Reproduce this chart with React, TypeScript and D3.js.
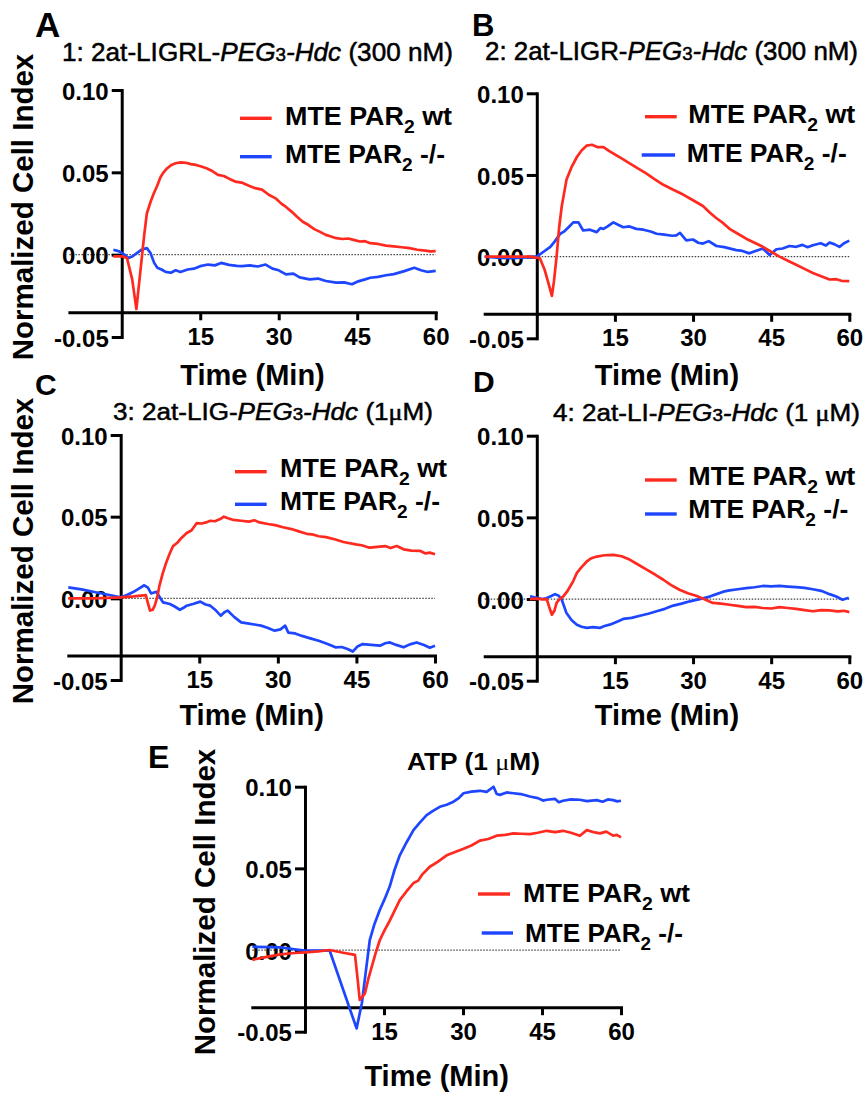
import React, { useRef, useEffect } from "react";
import * as d3 from "d3";

const WIDTH = 863;
const HEIGHT = 1094;
const RED = "#ff2a1f";
const BLUE = "#1e46ff";
const SANS = "'Liberation Sans', Arial, Helvetica, sans-serif";
const SERIF = "'Liberation Serif', 'DejaVu Serif', serif";

const xTicks = [15, 30, 45, 60];
const yTicks = [-0.05, 0, 0.05, 0.1];
const seriesNames = ["MTE PAR", "MTE PAR"];
const seriesSuffix = [" wt", " -/-"];

// [minutes, normalized cell index]
const aWt = [[-1.6,-0.001],[0,-0.001],[1,-0.002],[2,-0.015],[2.8,-0.033],[3.4,-0.015],[3.9,0],[4.3,0.012],[4.8,0.025],[5.5,0.032],[6.1,0.037],[6.8,0.042],[7.4,0.047],[8,0.05],[8.7,0.0525],[9.5,0.0545],[10.3,0.0555],[11.3,0.056],[12.3,0.0558],[13.2,0.055],[14.2,0.0545],[15.2,0.0535],[16.2,0.0525],[17.3,0.0508],[18.4,0.0485],[19.5,0.0478],[20.6,0.046],[21.7,0.0444],[22.9,0.0438],[24.2,0.042],[25.5,0.0404],[26.8,0.0395],[28.1,0.0364],[29.5,0.034],[30.5,0.031],[31.4,0.029],[32.5,0.026],[33.5,0.023],[34.6,0.02],[35.7,0.018],[36.8,0.0155],[37.8,0.014],[39,0.012],[40,0.011],[41,0.01],[42.2,0.0095],[43.3,0.0098],[44.3,0.009],[45.5,0.008],[46.5,0.0082],[47.5,0.007],[49,0.0065],[50.5,0.0055],[52,0.005],[53.5,0.0045],[55,0.004],[56.5,0.003],[58,0.0025],[59,0.002],[60,0.0022]];
const aKo = [[-1.6,0.003],[-0.5,0.002],[0.5,0],[1.3,-0.002],[2.1,-0.001],[2.9,0.001],[3.8,0.003],[4.8,0.004],[5.5,0.001],[6.2,-0.005],[6.8,-0.008],[7.6,-0.009],[8.4,-0.0105],[9.4,-0.011],[10.3,-0.0095],[11.2,-0.0105],[12.6,-0.009],[13.8,-0.0085],[15,-0.007],[16.5,-0.006],[17.8,-0.0065],[19,-0.005],[20.5,-0.0062],[22,-0.0068],[23,-0.007],[24.5,-0.0065],[26,-0.0072],[27.5,-0.006],[28.8,-0.0085],[30,-0.0095],[31.4,-0.012],[32.8,-0.0115],[34,-0.0138],[35.9,-0.015],[37.5,-0.0145],[39,-0.016],[41,-0.017],[42.5,-0.0168],[44,-0.018],[45.2,-0.0162],[46.5,-0.015],[47.5,-0.014],[49,-0.0135],[50.5,-0.0125],[52,-0.0118],[54,-0.01],[55.9,-0.008],[57.2,-0.0095],[58.5,-0.0105],[60,-0.0098]];

const bWt = [[-10,0],[-5,0],[-1.3,0],[0.6,-0.001],[1.5,-0.008],[2.3,-0.017],[2.9,-0.024],[3.3,-0.015],[3.8,0],[4.3,0.018],[4.8,0.031],[5.7,0.047],[6.7,0.055],[7.7,0.061],[8.6,0.065],[9.6,0.068],[10.6,0.0685],[11.7,0.067],[12.8,0.067],[14,0.0645],[15.3,0.062],[16.6,0.0595],[17.9,0.057],[19.4,0.054],[21,0.051],[22.6,0.0475],[24.3,0.044],[26.2,0.041],[28.1,0.038],[30,0.0345],[31.9,0.031],[33.2,0.027],[34.5,0.0235],[35.8,0.0205],[37,0.017],[38.6,0.014],[40.2,0.011],[41.8,0.0085],[43.4,0.006],[45,0.003],[46.6,0],[48.2,-0.0025],[49.8,-0.005],[51.4,-0.0075],[53,-0.01],[54.6,-0.012],[56.2,-0.014],[57.5,-0.0138],[58.5,-0.0148],[60,-0.015]];
const bKo = [[-10,0],[-7,-0.0008],[-4.5,-0.001],[-2,-0.0005],[0,0],[1.3,0.003],[2.6,0.006],[3.5,0.0095],[4.5,0.014],[5.3,0.0155],[6.1,0.018],[7,0.021],[8,0.021],[8.9,0.016],[10.2,0.0165],[11.5,0.015],[12.2,0.0175],[12.8,0.017],[13.6,0.0185],[14.7,0.021],[15.6,0.0195],[16.6,0.018],[17.8,0.0185],[19.1,0.017],[20.5,0.0165],[22,0.0152],[23,0.014],[24.5,0.0135],[26,0.0128],[26.8,0.013],[27.5,0.0145],[28.7,0.01],[30,0.0105],[31,0.0085],[31.9,0.008],[33,0.0095],[34.5,0.0065],[36,0.0058],[38.3,0.004],[39.5,0.0035],[40.8,0.002],[42,0.0035],[43.4,0.005],[44.7,0.001],[46,0.0045],[47.2,0.005],[48.5,0.0065],[49.8,0.006],[51,0.0072],[52,0.0058],[53,0.007],[54.5,0.0082],[55.5,0.0068],[56.2,0.0086],[57.2,0.0075],[58.1,0.006],[59,0.0082],[60,0.0098]];

const cWt = [[-10,0],[-5,0],[0,0.0006],[2.5,0.0012],[4.8,0.002],[5.2,-0.003],[5.6,-0.0075],[6.1,-0.007],[6.5,-0.0045],[7,0.001],[7.4,0.0078],[8,0.015],[8.7,0.022],[9.3,0.027],[10,0.032],[10.8,0.034],[11.6,0.037],[12.6,0.04],[13.5,0.0415],[14.5,0.046],[15.5,0.0458],[16.3,0.0465],[17.1,0.0475],[18,0.0472],[19,0.0485],[19.7,0.05],[20.5,0.049],[21.5,0.048],[23,0.0475],[24.5,0.047],[25.5,0.0478],[26.5,0.0465],[28.1,0.0455],[29.5,0.0448],[31,0.0435],[32.6,0.0424],[34,0.041],[35.5,0.0395],[36.5,0.0392],[37.8,0.038],[39.2,0.0375],[41,0.036],[42.5,0.0345],[44.9,0.033],[46,0.0325],[47.5,0.031],[49,0.0315],[50.5,0.032],[51.5,0.0308],[52.7,0.032],[54,0.03],[55.5,0.0292],[57.2,0.029],[58.2,0.0275],[59,0.028],[60,0.027]];
const cKo = [[-10,0.0067],[-7.5,0.0055],[-4.8,0.0037],[-2.4,0.0022],[0,0.0006],[1.2,0.002],[2.3,0.0037],[3.4,0.0058],[4.5,0.008],[5.2,0.0065],[5.8,0.003],[6.8,0.004],[7.4,0.001],[8.1,-0.0025],[9.4,-0.0035],[10.3,-0.005],[11.3,-0.007],[12,-0.0058],[12.6,-0.0045],[13.8,-0.0035],[15.2,-0.002],[16.2,-0.0038],[17.1,-0.0045],[18.2,-0.0075],[19.1,-0.0106],[19.8,-0.0085],[20.4,-0.0075],[21.7,-0.0115],[23,-0.0147],[24.5,-0.0155],[25.8,-0.0162],[26.8,-0.0167],[28,-0.018],[29.4,-0.0198],[30.5,-0.019],[31.4,-0.0167],[32,-0.021],[33.3,-0.0215],[34.6,-0.023],[36.2,-0.0245],[37.8,-0.026],[39.5,-0.028],[41,-0.03],[42.2,-0.0298],[43.3,-0.031],[44.3,-0.0326],[45.2,-0.0295],[46.2,-0.028],[47.8,-0.0285],[49.5,-0.029],[50.5,-0.0275],[51.4,-0.027],[52.6,-0.0285],[54,-0.03],[55.2,-0.0282],[56.5,-0.027],[57.9,-0.0286],[59,-0.0302],[60,-0.029]];

const dWt = [[-1.3,0],[0,0.0002],[1.2,-0.0002],[1.9,0],[2.4,-0.005],[2.9,-0.0096],[3.4,-0.007],[3.8,-0.0024],[4.4,0],[5.1,0.0016],[5.8,0.0045],[6.4,0.0077],[7,0.011],[7.7,0.016],[8.6,0.0195],[9.6,0.023],[10.5,0.025],[11.5,0.026],[13,0.0268],[14.7,0.027],[16.3,0.0262],[17.9,0.024],[19.5,0.021],[21.1,0.018],[22.7,0.015],[24.3,0.0118],[25.8,0.0085],[27.4,0.0057],[29,0.0035],[30.6,0.002],[32.2,-0.0002],[33.8,-0.0024],[35.4,-0.0028],[37,-0.0035],[38.6,-0.0042],[40.2,-0.005],[41.8,-0.0048],[43.4,-0.0055],[45,-0.0058],[46.6,-0.005],[48.2,-0.0055],[49.8,-0.006],[51.4,-0.0068],[53,-0.0075],[54.6,-0.0068],[56.2,-0.007],[57.8,-0.0075],[59,-0.0072],[60,-0.008]];
const dKo = [[-1.3,0.0016],[0,0.0008],[1,0],[1.8,0.0005],[2.6,0.0016],[3.5,0.003],[4.2,0.002],[4.8,-0.0004],[5.7,-0.0086],[6.7,-0.013],[7.7,-0.0157],[8.6,-0.017],[9.6,-0.0177],[10.8,-0.0172],[12.1,-0.0177],[13,-0.0165],[14,-0.0157],[15.3,-0.014],[16.6,-0.0122],[18.2,-0.0115],[19.8,-0.0102],[21.4,-0.009],[23,-0.0075],[24.6,-0.006],[26.2,-0.004],[27.8,-0.0028],[29.4,-0.0014],[30.6,-0.0005],[31.9,0.0004],[33.2,0.0015],[34.5,0.003],[35.8,0.0045],[37,0.0053],[38.6,0.006],[40.2,0.0067],[41.8,0.0072],[43.4,0.008],[45,0.0078],[46.6,0.008],[48.2,0.0076],[49.8,0.0073],[51.4,0.0068],[53,0.006],[54.6,0.005],[56.2,0.003],[57.5,0.0015],[58.7,-0.0004],[59.9,0.0008]];

const eWt = [[-10,-0.006],[-7,-0.004],[-4.7,-0.0027],[-2,-0.0018],[0,-0.0014],[2.5,-0.0008],[4.7,0],[7,-0.0015],[9.5,-0.003],[10,-0.018],[10.4,-0.0306],[11.4,-0.0265],[12,-0.018],[12.7,-0.01],[13.4,-0.002],[14.2,0.006],[15.1,0.012],[16.1,0.018],[17,0.024],[18,0.0306],[19.3,0.036],[20.6,0.041],[21.5,0.0425],[22.2,0.046],[23.7,0.051],[25.2,0.054],[26.9,0.058],[28.5,0.06],[30.1,0.062],[31.6,0.064],[33.2,0.067],[34.8,0.068],[36.4,0.07],[38,0.0705],[39.6,0.0714],[41,0.0712],[42.7,0.071],[44.2,0.0718],[45.9,0.073],[47.5,0.0722],[49,0.073],[50.5,0.0718],[52.2,0.07],[53.5,0.0734],[55,0.072],[56,0.0714],[57.2,0.0725],[58.5,0.07],[59.2,0.0705],[60,0.069]];
const eKo = [[-10,0.002],[-7,0.0018],[-4.7,0.0016],[-2,0.0005],[0,-0.0004],[4.7,-0.0004],[9.8,-0.048],[10.8,-0.0326],[11.6,-0.012],[12.3,0.006],[13.2,0.016],[14.2,0.0245],[15.1,0.031],[16.1,0.039],[17,0.049],[18,0.058],[19.3,0.066],[20.6,0.0734],[21.8,0.078],[23.1,0.0826],[24.3,0.0852],[25.6,0.0877],[26.9,0.089],[28.2,0.0908],[29.2,0.093],[30.1,0.096],[31.6,0.097],[33.2,0.0975],[34.5,0.0968],[35.8,0.1],[36.4,0.0955],[37,0.095],[38.3,0.0965],[39.6,0.096],[41,0.0955],[42.7,0.094],[44.2,0.093],[45.2,0.0915],[45.9,0.092],[47.5,0.0925],[48.2,0.0905],[49,0.0914],[50.5,0.0922],[52.2,0.092],[53.5,0.0912],[55.4,0.0918],[56.5,0.0908],[57.5,0.0922],[58.5,0.0918],[59.3,0.091],[60,0.0914]];

// title pieces: kind n = normal, i = italic, s = small digit, m = serif mu
const titleA = [["n", "1: 2at-LIGRL-"], ["i", "PEG"], ["s", "3"], ["i", "-Hdc"], ["n", " (300 nM)"]];
const titleB = [["n", "2: 2at-LIGR-"], ["i", "PEG"], ["s", "3"], ["i", "-Hdc"], ["n", " (300 nM)"]];
const titleC = [["n", "3: 2at-LIG-"], ["i", "PEG"], ["s", "3"], ["i", "-Hdc"], ["n", " (1"], ["m", "μ"], ["n", "M)"]];
const titleD = [["n", "4: 2at-LI-"], ["i", "PEG"], ["s", "3"], ["i", "-Hdc"], ["n", " (1 "], ["m", "μ"], ["n", "M)"]];
const titleE = [["n", "ATP (1 "], ["m", "μ"], ["n", "M)"]];

const panels = [
  {
    letter: "A", letterPos: [35, 37, 35], wt: aWt, ko: aKo,
    xRange: [69.4, 435.7], yRange: [337, 90],
    title: titleA, titlePos: [62, 61, 25, 391], titleBold: false,
    legend: { lines: [[240, 271.7], [240, 271.7]], textX: [285, 285], rows: [[118.3, 125], [156.7, 163.3]], len: [167, 160] },
    timeY: 385, yLabel: [33, 207],
  },
  {
    letter: "B", letterPos: [472, 36, 31], wt: bWt, ko: bKo,
    xRange: [484.7, 849.3], yRange: [338.3, 93.3],
    title: titleB, titlePos: [485, 60, 25, 373], titleBold: false,
    legend: { lines: [[645, 676.7], [641.7, 675]], textX: [688.3, 686.7], rows: [[116.7, 123.3], [155, 161.7]], len: [167, 160] },
    timeY: 385, yLabel: null,
  },
  {
    letter: "C", letterPos: [35, 395, 30], wt: cWt, ko: cKo,
    xRange: [68.3, 435], yRange: [680, 435],
    title: titleC, titlePos: [113, 420, 23.5, 320], titleBold: false,
    legend: { lines: [[235, 266.7], [235, 266.7]], textX: [280, 280], rows: [[471.7, 477.3], [504.3, 510]], len: [167, 160] },
    timeY: 725, yLabel: [33, 551],
  },
  {
    letter: "D", letterPos: [473, 392, 30], wt: dWt, ko: dKo,
    xRange: [484.7, 849.3], yRange: [680.7, 435.7],
    title: titleD, titlePos: [553, 421, 23.5, 307], titleBold: false,
    legend: { lines: [[645, 676.7], [645, 676.7]], textX: [688.3, 688.3], rows: [[480, 485], [514, 518.3]], len: [167, 160] },
    timeY: 725, yLabel: null,
  },
  {
    letter: "E", letterPos: [148, 768, 32], wt: eWt, ko: eKo,
    xRange: [252.3, 621], yRange: [1031.7, 786.7],
    title: titleE, titlePos: [407, 770, 24, 133], titleBold: true,
    legend: { lines: [[478, 510], [481.7, 513]], textX: [523, 525], rows: [[894, 901.7], [933, 941.7]], len: [167, 158] },
    timeY: 1086, yLabel: [215, 902],
  },
];

const App = () => {
  const svgRef = useRef(null);

  useEffect(() => {
    const svg = d3.select(svgRef.current);
    svg.selectAll("*").remove();

    svg.append("rect").attr("width", WIDTH).attr("height", HEIGHT).attr("fill", "white");

    panels.forEach((p) => {
      const x = d3.scaleLinear().domain([-10, 60]).range(p.xRange);
      const y = d3.scaleLinear().domain([-0.05, 0.1]).range(p.yRange);
      const g = svg.append("g");

      // dotted baseline at 0
      g.append("line")
        .attr("x1", x(-10))
        .attr("x2", x(60))
        .attr("y1", y(0))
        .attr("y2", y(0))
        .attr("stroke", "#444")
        .attr("stroke-width", 1.2)
        .attr("stroke-dasharray", "1.5,1.5");

      const yAxis = g
        .append("g")
        .attr("transform", `translate(${x(0)},0)`)
        .call(
          d3.axisLeft(y).tickValues(yTicks).tickSize(10).tickPadding(3).tickSizeOuter(0)
            .tickFormat((d) => d.toFixed(2))
        );

      const xAxis = g
        .append("g")
        .attr("transform", `translate(0,${y(-0.035)})`)
        .call(d3.axisBottom(x).tickValues(xTicks).tickSize(8).tickPadding(7.5).tickSizeOuter(0));

      [yAxis, xAxis].forEach((ax) => {
        ax.attr("font-family", SANS).attr("font-size", 24).attr("font-weight", "bold");
        ax.select(".domain").attr("stroke", "black").attr("stroke-width", 3).attr("stroke-linecap", "square");
        ax.selectAll(".tick line").attr("stroke", "black").attr("stroke-width", 3);
        ax.selectAll(".tick text").attr("fill", "black");
      });
      yAxis.selectAll(".tick text").attr("dy", "0.38em");

      const line = d3
        .line()
        .x((d) => x(d[0]))
        .y((d) => y(d[1]));

      [[p.ko, BLUE], [p.wt, RED]].forEach(([data, color]) => {
        g.append("path")
          .datum(data)
          .attr("d", line)
          .attr("fill", "none")
          .attr("stroke", color)
          .attr("stroke-width", 2.7)
          .attr("stroke-linejoin", "round");
      });

      // title
      const [tx, ty, tsize, tlen] = p.titlePos;
      const title = g
        .append("text")
        .attr("x", tx)
        .attr("y", ty)
        .attr("font-family", SANS)
        .attr("font-size", tsize)
        .attr("font-weight", p.titleBold ? "bold" : "normal")
        .attr("textLength", tlen)
        .attr("lengthAdjust", "spacingAndGlyphs")
        .attr("fill", "black")
        .attr("stroke", "black")
        .attr("stroke-width", p.titleBold ? 0 : 0.5);
      p.title.forEach(([kind, txt]) => {
        const s = title.append("tspan").text(txt);
        if (kind === "i") s.attr("font-style", "italic");
        if (kind === "s") s.attr("font-size", tsize * 0.72);
        if (kind === "m") s.attr("font-family", SERIF).attr("font-weight", "normal");
      });

      // legend
      const colors = [RED, BLUE];
      [0, 1].forEach((i) => {
        const [ly, lby] = p.legend.rows[i];
        g.append("line")
          .attr("x1", p.legend.lines[i][0])
          .attr("x2", p.legend.lines[i][1])
          .attr("y1", ly)
          .attr("y2", ly)
          .attr("stroke", colors[i])
          .attr("stroke-width", 3.4);
        const t = g
          .append("text")
          .attr("x", p.legend.textX[i])
          .attr("y", lby)
          .attr("font-family", SANS)
          .attr("font-size", 25)
          .attr("font-weight", "bold")
          .attr("textLength", p.legend.len[i])
          .attr("lengthAdjust", "spacingAndGlyphs")
          .attr("fill", "black");
        t.append("tspan").text(seriesNames[i]);
        t.append("tspan").attr("font-size", 18).attr("dy", 8).text("2");
        t.append("tspan").attr("dy", -8).text(seriesSuffix[i]);
      });

      // x axis title
      g.append("text")
        .attr("x", (x(-10) + x(60)) / 2)
        .attr("y", p.timeY)
        .attr("text-anchor", "middle")
        .attr("font-family", SANS)
        .attr("font-size", 29)
        .attr("font-weight", "bold")
        .attr("fill", "black")
        .text("Time (Min)");

      if (p.yLabel) {
        g.append("text")
          .attr("transform", `translate(${p.yLabel[0]},${p.yLabel[1]}) rotate(-90)`)
          .attr("text-anchor", "middle")
          .attr("font-family", SANS)
          .attr("font-size", 29.5)
          .attr("font-weight", "bold")
          .attr("fill", "black")
          .text("Normalized Cell Index");
      }

      g.append("text")
        .attr("x", p.letterPos[0])
        .attr("y", p.letterPos[1])
        .attr("font-family", SANS)
        .attr("font-size", p.letterPos[2])
        .attr("font-weight", "bold")
        .attr("fill", "black")
        .text(p.letter);
    });
  }, []);

  return (
    <svg
      ref={svgRef}
      width={WIDTH}
      height={HEIGHT}
      style={{ position: "absolute", left: 0, top: 0 }}
    />
  );
};

export default App;
